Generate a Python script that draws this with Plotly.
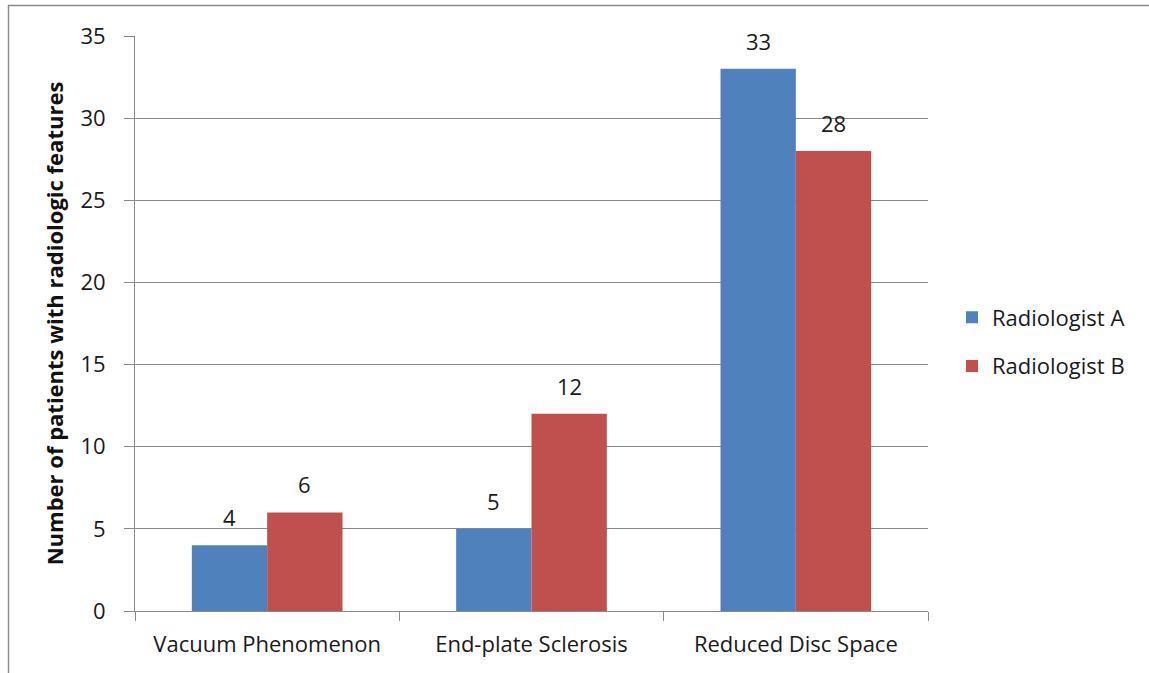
import plotly.graph_objects as go

categories = ["Vacuum Phenomenon", "End-plate Sclerosis", "Reduced Disc Space"]
radiologist_a = [4, 5, 33]
radiologist_b = [6, 12, 28]
y_ticks = [0, 5, 10, 15, 20, 25, 30, 35]

FONT = "Open Sans"
GRAY = "#8a8a8a"
TXT = "#1a1a1a"

W, H = 1149, 673
L, R, T, B = 135, 221, 36, 62
pw, ph = W - L - R, H - T - B
BARGAP = 0.43
bar_px = pw / 3 * (1 - BARGAP) / 2

fig = go.Figure()
fig.add_trace(go.Bar(
    x=categories, y=radiologist_a, name="Radiologist A",
    marker=dict(color="#4F81BD", line=dict(width=0)),
    legendgroup="a",
))
fig.add_trace(go.Bar(
    x=categories, y=radiologist_b, name="Radiologist B",
    marker=dict(color="#C0504D", line=dict(width=0)),
    legendgroup="b",
))

annotations = []
for series, shift in ((radiologist_a, -bar_px / 2), (radiologist_b, bar_px / 2)):
    for cat, val in zip(categories, series):
        annotations.append(dict(
            x=cat, y=val, xref="x", yref="y", text=str(val), showarrow=False,
            xshift=shift, yshift=11, yanchor="bottom",
            font=dict(size=22, family=FONT, color=TXT),
        ))

fig.update_layout(
    width=W, height=H,
    margin=dict(l=L, r=R, t=T, b=B, pad=0),
    paper_bgcolor="white", plot_bgcolor="white",
    barmode="group", bargap=BARGAP, bargroupgap=0,
    font=dict(family=FONT, size=22, color=TXT),
    showlegend=True,
    legend=dict(
        x=(952 - L) / pw, y=(H - B - 342) / ph, xanchor="left", yanchor="middle",
        font=dict(size=22, family=FONT, color=TXT),
        traceorder="grouped", tracegroupgap=17, bgcolor="rgba(0,0,0,0)",
    ),
    xaxis=dict(
        type="category", tickson="boundaries", ticks="outside", ticklen=9,
        tickcolor=GRAY, showline=True, linecolor=GRAY, linewidth=1,
        showgrid=False, tickfont=dict(size=22, family=FONT, color=TXT),
        ticklabelstandoff=14,
    ),
    yaxis=dict(
        range=[0, 35], tickvals=y_ticks, ticks="outside", ticklen=10,
        tickcolor=GRAY, showline=True, linecolor=GRAY, linewidth=1,
        showgrid=True, gridcolor=GRAY, gridwidth=1, zeroline=False,
        tickfont=dict(size=22, family=FONT, color=TXT),
        ticklabelstandoff=14,
        title=dict(text="<b>Number of patients with radiologic features</b>",
                   font=dict(size=22, family=FONT, color="#111111"), standoff=10),
    ),
    annotations=annotations,
    shapes=[dict(
        type="rect", xref="paper", yref="paper",
        x0=(8.5 - L) / pw, x1=1.6, y0=-0.5, y1=(H - B - 5.5) / ph,
        line=dict(color="#8a8a8a", width=1.5), fillcolor="rgba(0,0,0,0)", layer="below",
    )],
)

fig.write_html(
    "out.html",
    config={"displayModeBar": False},
    post_script="document.body.style.margin='0';document.body.style.overflow='hidden';",
)
